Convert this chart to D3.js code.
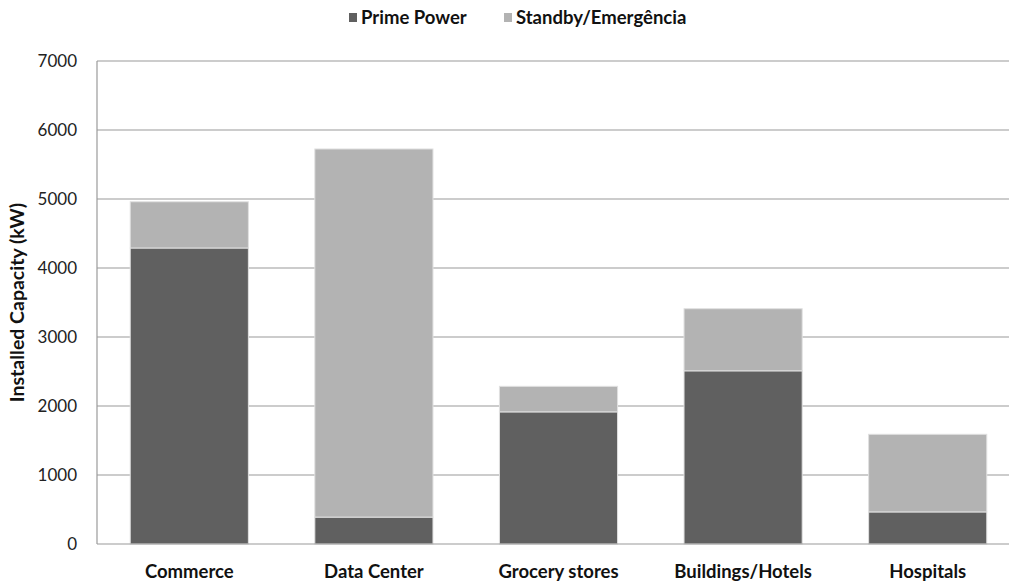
<!DOCTYPE html>
<html><head><meta charset="utf-8">
<script src="https://cdn.jsdelivr.net/npm/d3@7"></script>
<style>body{margin:0;background:#fff}svg{display:block;font-family:Lato, "Open Sans", sans-serif}</style>
</head><body><svg id="c" width="1009" height="581"></svg>
<script>
const categories = ["Commerce","Data Center","Grocery stores","Buildings/Hotels","Hospitals"];
const primePower = [4290, 390, 1915, 2510, 465];
const standby = [670, 5335, 370, 900, 1125];
const seriesNames = ["Prime Power","Standby/Emergência"];
const seriesColors = ["#606060","#b3b3b3"];
const yTicks = [0,1000,2000,3000,4000,5000,6000,7000];

(function(){
const svg = d3.select("#c");
const mL = 97, mR = 1020, mT = 61, mB = 544;
const x = d3.scaleBand().domain(categories).range([mL,mR]).paddingInner(0.36).paddingOuter(0.18);
const y = d3.scaleLinear().domain([0,7000]).range([mB,mT]);

const data = categories.map((c,i)=>({cat:c, "Prime Power":primePower[i], "Standby/Emergência":standby[i]}));
const stacked = d3.stack().keys(seriesNames)(data);

svg.append("g").selectAll("line").data(yTicks.filter(d=>d>0)).join("line")
  .attr("x1",mL).attr("x2",mR).attr("y1",d=>y(d)).attr("y2",d=>y(d))
  .attr("stroke","#9a9a9a").attr("stroke-width",1.2);

svg.append("g").selectAll("g").data(stacked).join("g")
  .attr("fill",(d,i)=>seriesColors[i])
  .selectAll("rect").data(d=>d).join("rect")
  .attr("x",d=>x(d.data.cat)).attr("width",x.bandwidth())
  .attr("y",d=>y(d[1])).attr("height",d=>y(d[0])-y(d[1]))
  .attr("stroke","#e0e0e0").attr("stroke-width",1);

svg.append("line").attr("x1",mL).attr("x2",mL).attr("y1",mT).attr("y2",mB).attr("stroke","#9a9a9a").attr("stroke-width",1.2);
svg.append("line").attr("x1",mL).attr("x2",mR).attr("y1",mB).attr("y2",mB).attr("stroke","#9a9a9a").attr("stroke-width",1.2);

const yAxis = d3.axisLeft(y).tickValues(yTicks).tickSize(0).tickPadding(20).tickFormat(d3.format("d"));
const ya = svg.append("g").attr("transform",`translate(${mL},0)`).call(yAxis);
ya.select(".domain").remove();
ya.selectAll("text").attr("font-size",17).attr("fill","#222").attr("font-family","Lato, sans-serif");

const xAxis = d3.axisBottom(x).tickSize(0).tickPadding(21);
const xa = svg.append("g").attr("transform",`translate(0,${mB})`).call(xAxis);
xa.select(".domain").remove();
xa.selectAll("text").attr("font-size",18.5).attr("font-weight","bold").attr("fill","#111").attr("font-family","Lato, sans-serif");

svg.append("text").attr("transform",`translate(24,${(mT+mB)/2}) rotate(-90)`)
  .attr("text-anchor","middle").attr("font-size",19.5).attr("font-weight","bold").attr("fill","#111")
  .text("Installed Capacity (kW)");

const legX = [349, 504];
const leg = svg.append("g").selectAll("g").data(seriesNames).join("g")
  .attr("transform",(d,i)=>`translate(${legX[i]},0)`);
leg.append("rect").attr("x",0).attr("y",13).attr("width",8).attr("height",9).attr("fill",(d,i)=>seriesColors[i]);
leg.append("text").attr("x",12).attr("y",18).attr("dy","0.35em").attr("font-size",18.5).attr("font-weight","bold").attr("fill","#111").text(d=>d);
})();
</script></body></html>
